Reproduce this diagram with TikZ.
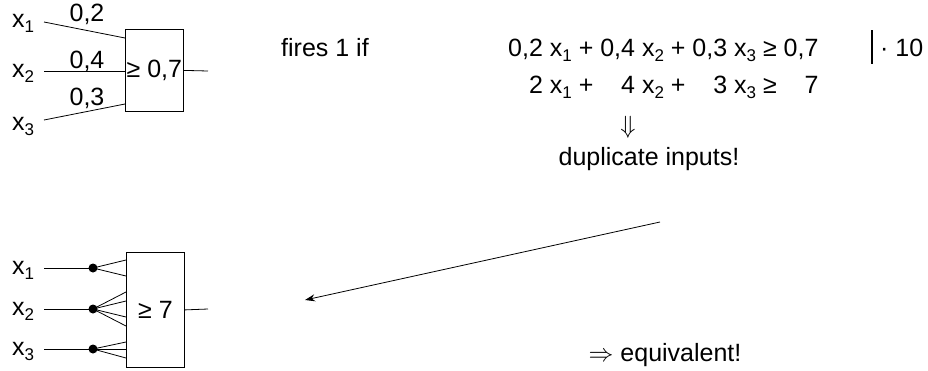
\documentclass[tikz,border=0pt]{standalone}
\usepackage{fontspec}
\setmainfont{Liberation Sans}
\usetikzlibrary{arrows.meta,calc}
\newcommand\sx[1]{x\raisebox{-0.4ex}{\fontsize{17}{17}\selectfont #1}}
\newcommand\zph{\phantom{0,}}
\tikzset{
  txt/.style={inner sep=0pt, font=\fontsize{25}{29}\selectfont},
  gatebox/.style={draw, line width=0.8pt, minimum width=58pt, inner sep=0pt},
  wire/.style={line width=0.8pt},
  jdot/.style={circle, fill, inner sep=0pt, minimum size=9pt},
}
\begin{document}
\begin{tikzpicture}[x=1pt,y=-1pt]
\useasboundingbox (0,0) rectangle (928,370);
% ---------- top gate ----------
\node[gatebox, minimum height=82pt, anchor=north west] (g1) at (125,29) {};
\node[txt] (g1t) at (g1.center) {≥ 0,7};
\node[txt, anchor=base west] (a1) at (12,27) {\sx{1}};
\node[txt, anchor=base west] (a2) at (12,77) {\sx{2}};
\node[txt, anchor=base west] (a3) at (12,130) {\sx{3}};
\coordinate (a1s) at (44,22);
\coordinate (a2s) at (44,71);
\coordinate (a3s) at (44,120);
\coordinate (g1i1) at (125,38);
\coordinate (g1i2) at (125,71);
\coordinate (g1i3) at (125,104);
\coordinate (g1o) at (208,71);
\draw[wire] (a1s) -- (g1i1);
\draw[wire] (a2s) -- (g1i2);
\draw[wire] (a3s) -- (g1i3);
\draw[wire] (g1.east) -- (g1o);
\node[txt, anchor=base] (w1) at (87,21) {0,2};
\node[txt, anchor=base] (w2) at (87,68) {0,4};
\node[txt, anchor=base] (w3) at (87,105) {0,3};
% ---------- text ----------
\node[txt, anchor=base] (fires) at (325,56) {fires 1 if};
\node[txt, anchor=base west] (eq1) at (508,56) {0,2 \sx{1} + 0,4 \sx{2} + 0,3 \sx{3} ≥ 0,7};
\node[txt, anchor=base west] (eq2) at (508,93) {\zph2 \sx{1} + \zph4 \sx{2} + \zph3 \sx{3} ≥ \zph7};
\coordinate (bar1) at (872,30);
\coordinate (bar2) at (872,64);
\draw[line width=2.2pt] (bar1) -- (bar2);
\node[txt, anchor=base west] (mul) at (880,56) {· 10};
\node[txt] (dn) at (628,127) {$\Downarrow$};
\node[txt] (dup) at (649,159) {duplicate inputs!};
\coordinate (arS) at (660,222);
\coordinate (arE) at (305,300);
\draw[wire, -{Stealth[length=10pt,width=7pt]}] (arS) -- (arE);
\node[txt] (eqv) at (665,355) {$\Rightarrow$ equivalent!};
% ---------- bottom gate ----------
\node[gatebox, minimum height=115pt, anchor=north west] (g2) at (126,252) {};
\node[txt] (g2t) at (g2.center) {≥ 7};
\node[txt, anchor=base west] (b1) at (12,274) {\sx{1}};
\node[txt, anchor=base west] (b2) at (12,315) {\sx{2}};
\node[txt, anchor=base west] (b3) at (12,355) {\sx{3}};
\node[jdot] (d1) at (93,268) {};
\node[jdot] (d2) at (93,309) {};
\node[jdot] (d3) at (93,349) {};
\coordinate (b1s) at (44,268);
\coordinate (b2s) at (44,309);
\coordinate (b3s) at (44,349);
\draw[wire] (b1s) -- (d1.center);
\draw[wire] (b2s) -- (d2.center);
\draw[wire] (b3s) -- (d3.center);
\foreach \y in {260,276} \draw[wire] (d1.center) -- (126,\y);
\foreach \y in {292,301,317,326} \draw[wire] (d2.center) -- (126,\y);
\foreach \y in {342,349,358} \draw[wire] (d3.center) -- (126,\y);
\coordinate (g2o) at (208,309);
\draw[wire] (g2.east) -- (g2o);
\end{tikzpicture}
\end{document}
